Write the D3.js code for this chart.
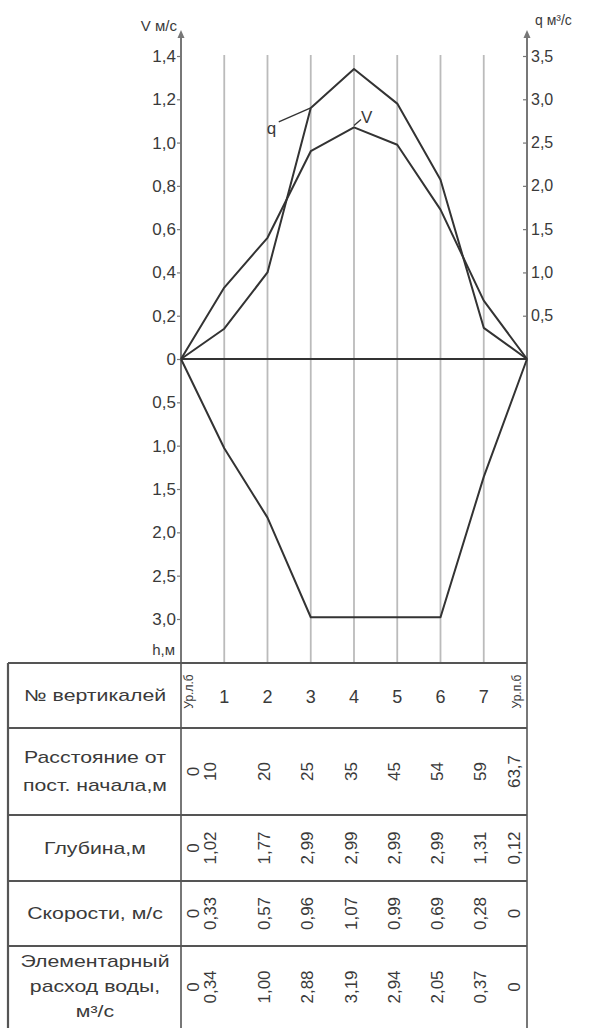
<!DOCTYPE html>
<html>
<head>
<meta charset="utf-8">
<script src="https://cdn.jsdelivr.net/npm/d3@7"></script>
<style>
  body { margin: 0; background: #fff; }
  text { font-family: "Liberation Sans", Arial, sans-serif; fill: #3a3a3a; }
</style>
</head>
<body>
<script>
// table values as printed
var verticals = ["Ур.л.б", "1", "2", "3", "4", "5", "6", "7", "Ур.п.б"];
var distances = ["0", "10", "20", "25", "35", "45", "54", "59", "63,7"];
var depths = ["0", "1,02", "1,77", "2,99", "2,99", "2,99", "2,99", "1,31", "0,12"];
var speeds = ["0", "0,33", "0,57", "0,96", "1,07", "0,99", "0,69", "0,28", "0"];
var flows = ["0", "0,34", "1,00", "2,88", "3,19", "2,94", "2,05", "0,37", "0"];

// plotted profiles
var vValues = [0, 0.33, 0.56, 0.96, 1.07, 0.99, 0.69, 0.27, 0];
var qValues = [0, 0.35, 1.00, 2.90, 3.35, 2.95, 2.07, 0.36, 0];
var hValues = [0, 1.03, 1.83, 2.98, 2.98, 2.98, 2.98, 1.36, 0];

var vTicks = [0, 0.2, 0.4, 0.6, 0.8, 1.0, 1.2, 1.4];
var qTicks = [0.5, 1.0, 1.5, 2.0, 2.5, 3.0, 3.5];
var hTicks = [0.5, 1.0, 1.5, 2.0, 2.5, 3.0];

var rowLabels = [
  ["№ вертикалей"],
  ["Расстояние от", "пост. начала,м"],
  ["Глубина,м"],
  ["Скорости, м/с"],
  ["Элементарный", "расход воды,", "м³/с"]
];

var width = 595, height = 1028;
var x0 = 181, x1 = 527, y0 = 359;

var svg = d3.select("body").append("svg")
    .attr("width", width)
    .attr("height", height);

var x = d3.scalePoint()
    .domain(d3.range(verticals.length))
    .range([x0, x1]);

var yV = d3.scaleLinear().domain([0, 1.4]).range([y0, 56]);
var yQ = d3.scaleLinear().domain([0, 3.5]).range([y0, 56]);
var yH = d3.scaleLinear().domain([0, 3.0]).range([y0, 619]);

var comma = function(d) { return d === 0 ? "0" : d3.format(".1f")(d).replace(".", ","); };

// vertical grid lines
svg.selectAll(".grid")
    .data(d3.range(1, verticals.length - 1))
    .enter().append("line")
    .attr("x1", function(i) { return x(i); })
    .attr("x2", function(i) { return x(i); })
    .attr("y1", 55)
    .attr("y2", 663)
    .attr("stroke", "#bbb")
    .attr("stroke-width", 1.8);

// zero line
svg.append("line")
    .attr("x1", x0).attr("x2", x1)
    .attr("y1", y0).attr("y2", y0)
    .attr("stroke", "#333").attr("stroke-width", 1.8);

// axes lines with arrows
[x0, x1].forEach(function(ax) {
  svg.append("line")
      .attr("x1", ax).attr("x2", ax)
      .attr("y1", 34).attr("y2", height)
      .attr("stroke", "#777").attr("stroke-width", 2);
  svg.append("path")
      .attr("d", "M" + (ax - 3.5) + ",38 L" + ax + ",30 L" + (ax + 3.5) + ",38 Z")
      .attr("fill", "#777");
});

var gV = svg.append("g")
    .attr("transform", "translate(" + x0 + ",0)")
    .call(d3.axisLeft(yV).tickValues(vTicks).tickSize(4).tickPadding(1).tickFormat(comma));

var gH = svg.append("g")
    .attr("transform", "translate(" + x0 + ",0)")
    .call(d3.axisLeft(yH).tickValues(hTicks).tickSize(4).tickPadding(1).tickFormat(comma));

var gQ = svg.append("g")
    .attr("transform", "translate(" + x1 + ",0)")
    .call(d3.axisRight(yQ).tickValues(qTicks).tickSize(-4).tickPadding(5).tickFormat(comma));

[gV, gH, gQ].forEach(function(g) {
  g.select(".domain").remove();
  g.selectAll(".tick line").attr("stroke", "#777").attr("stroke-width", 1.2);
  g.selectAll(".tick text")
      .style("font-family", "'Liberation Sans', Arial, sans-serif")
      .style("font-size", "17px")
      .attr("fill", "#3a3a3a");
});
gQ.selectAll(".tick text").attr("x", 4).style("font-size", "16px");

// axis titles
svg.append("text").attr("x", 177).attr("y", 31).attr("text-anchor", "end")
    .style("font-size", "15px").text("V м/с");
svg.append("text").attr("x", 535).attr("y", 25)
    .style("font-size", "14px").text("q м³/с");
svg.append("text").attr("x", 175).attr("y", 655).attr("text-anchor", "end")
    .style("font-size", "15px").text("h,м");

function drawLine(values, yScale) {
  var line = d3.line()
      .x(function(d, i) { return x(i); })
      .y(function(d) { return yScale(d); });
  svg.append("path")
      .datum(values)
      .attr("d", line)
      .attr("fill", "none")
      .attr("stroke", "#333")
      .attr("stroke-width", 2)
      .attr("stroke-linejoin", "round");
}
drawLine(qValues, yQ);
drawLine(vValues, yV);
drawLine(hValues, yH);

// q and V callouts
svg.append("line")
    .attr("x1", x(3)).attr("y1", yQ(qValues[3]))
    .attr("x2", x(3) - 32).attr("y2", yQ(qValues[3]) + 14)
    .attr("stroke", "#333").attr("stroke-width", 1.3);
svg.append("text").attr("x", x(3) - 44).attr("y", yQ(qValues[3]) + 26)
    .style("font-size", "17px").text("q");
svg.append("line")
    .attr("x1", x(4)).attr("y1", yV(vValues[4]) - 2)
    .attr("x2", x(4) + 7).attr("y2", yV(vValues[4]) - 8)
    .attr("stroke", "#333").attr("stroke-width", 1.3);
svg.append("text").attr("x", x(4) + 7).attr("y", yV(vValues[4]) - 4)
    .style("font-size", "17px").text("V");

// table
var rowsY = [663, 728, 815, 881, 946, height];
svg.selectAll(".rowline")
    .data(rowsY.slice(0, 5))
    .enter().append("line")
    .attr("x1", 8).attr("x2", x1)
    .attr("y1", function(d) { return d; })
    .attr("y2", function(d) { return d; })
    .attr("stroke", "#555").attr("stroke-width", 2.2);
svg.append("line")
    .attr("x1", 8).attr("x2", 8)
    .attr("y1", 663).attr("y2", height)
    .attr("stroke", "#555").attr("stroke-width", 2.2);

var labelLineH = [0, 28, 0, 0, 25];
rowLabels.forEach(function(lines, r) {
  var cy = (rowsY[r] + rowsY[r + 1]) / 2 + (r === 4 ? -1 : 0);
  lines.forEach(function(t, k) {
    svg.append("text")
        .attr("transform", "translate(95," + (cy + (k - (lines.length - 1) / 2) * labelLineH[r]) + ") scale(1.33,1)")
        .attr("text-anchor", "middle")
        .attr("dominant-baseline", "central")
        .style("font-size", "16px")
        .text(t);
  });
});

// row 1: vertical numbers
verticals.forEach(function(v, i) {
  var cy = (rowsY[0] + rowsY[1]) / 2;
  if (i === 0 || i === verticals.length - 1) {
    var cx = i === 0 ? x0 + 8 : x1 - 10;
    svg.append("text")
        .attr("transform", "translate(" + cx + "," + (cy - 4) + ") rotate(-90)")
        .attr("text-anchor", "middle")
        .attr("dominant-baseline", "central")
        .style("font-size", "12px")
        .text(v);
  } else {
    svg.append("text")
        .attr("x", x(i)).attr("y", cy + 1)
        .attr("text-anchor", "middle")
        .attr("dominant-baseline", "central")
        .style("font-size", "18px")
        .text(v);
  }
});

// rotated rows
function rotatedRow(values, r) {
  var cy = (rowsY[r] + rowsY[r + 1]) / 2;
  values.forEach(function(v, i) {
    var cx = x(i) - 3;
    if (i === 0) cx = x0 + 12;
    if (i === 1) cx = x(1) - 14;
    if (i === values.length - 1) cx = x1 - 13;
    svg.append("text")
        .attr("transform", "translate(" + cx + "," + cy + ") rotate(-90)")
        .attr("text-anchor", "middle")
        .attr("dominant-baseline", "central")
        .style("font-size", "17px")
        .text(v);
  });
}
rotatedRow(distances, 1);
rotatedRow(depths, 2);
rotatedRow(speeds, 3);
rotatedRow(flows, 4);
</script>
</body>
</html>
